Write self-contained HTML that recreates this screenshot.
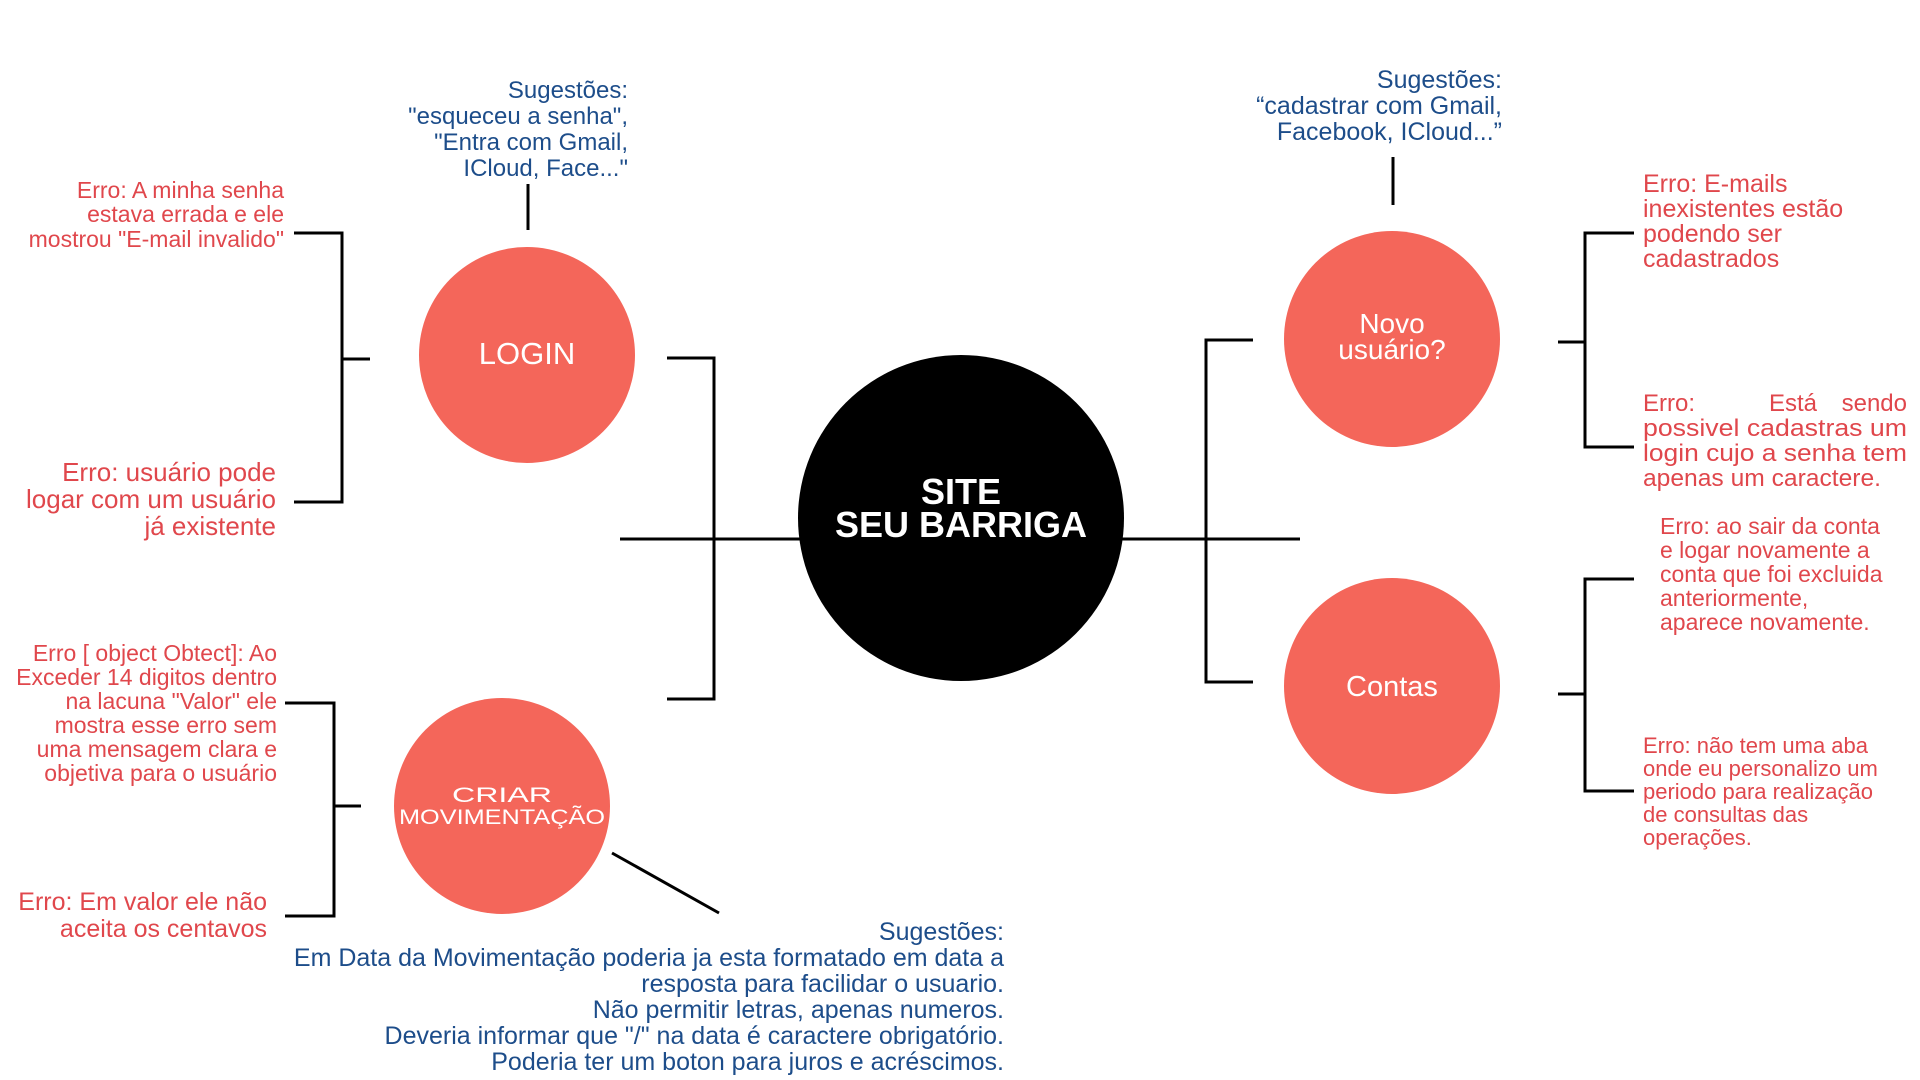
<!DOCTYPE html>
<html><head><meta charset="utf-8"><style>
html,body{margin:0;padding:0;background:#fff}
svg{display:block}
text{font-family:"Liberation Sans",sans-serif}
.b{fill:#1d4d8a}
.r{fill:#e0474c}
</style></head><body>
<svg width="1920" height="1080" viewBox="0 0 1920 1080" xmlns="http://www.w3.org/2000/svg">
<g stroke="#000" stroke-width="3" fill="none">
<line x1="620" y1="539" x2="1300" y2="539"/>
<polyline points="667,358 714,358 714,699 667,699"/>
<polyline points="1253,340 1206,340 1206,682 1253,682"/>
<line x1="528" y1="184" x2="528" y2="230"/>
<polyline points="294,233 342,233 342,502 294,502"/>
<line x1="342" y1="359" x2="370" y2="359"/>
<polyline points="285,703 334,703 334,916 285,916"/>
<line x1="334" y1="806" x2="361" y2="806"/>
<line x1="612" y1="853" x2="719" y2="913"/>
<line x1="1393" y1="157" x2="1393" y2="205"/>
<polyline points="1634,233 1585,233 1585,447 1634,447"/>
<line x1="1558" y1="342" x2="1585" y2="342"/>
<polyline points="1634,579 1585,579 1585,791 1634,791"/>
<line x1="1558" y1="694" x2="1585" y2="694"/>
</g>
<circle cx="961" cy="518" r="163" fill="#000"/>
<circle cx="527" cy="355" r="108" fill="#f4665a"/>
<circle cx="502" cy="806" r="108" fill="#f4665a"/>
<circle cx="1392" cy="339" r="108" fill="#f4665a"/>
<circle cx="1392" cy="686" r="108" fill="#f4665a"/>
<g fill="#fff" text-anchor="middle">
<text x="961" y="504" font-size="36" font-weight="bold">SITE</text>
<text x="961" y="537" font-size="36" font-weight="bold">SEU BARRIGA</text>
<text x="527" y="364" font-size="31">LOGIN</text>
<text x="502" y="802" font-size="21" textLength="100" lengthAdjust="spacingAndGlyphs">CRIAR</text>
<text x="502" y="824" font-size="21" textLength="206" lengthAdjust="spacingAndGlyphs">MOVIMENTAÇÃO</text>
<text x="1392" y="333" font-size="28">Novo</text>
<text x="1392" y="359" font-size="28">usuário?</text>
<text x="1392" y="696" font-size="29">Contas</text>
</g>
<g class="b" text-anchor="end">
<g font-size="24">
<text x="628" y="98">Sugestões:</text>
<text x="628" y="124">"esqueceu a senha",</text>
<text x="628" y="150">"Entra com Gmail,</text>
<text x="628" y="176">ICloud, Face..."</text>
</g>
<g font-size="25">
<text x="1502" y="88">Sugestões:</text>
<text x="1502" y="114">“cadastrar com Gmail,</text>
<text x="1502" y="140">Facebook, ICloud...”</text>
</g>
<g font-size="25">
<text x="1004" y="940">Sugestões:</text>
<text x="1004" y="966">Em Data da Movimentação poderia ja esta formatado em data a</text>
<text x="1004" y="992">resposta para facilidar o usuario.</text>
<text x="1004" y="1018">Não permitir letras, apenas numeros.</text>
<text x="1004" y="1044">Deveria informar que "/" na data é caractere obrigatório.</text>
<text x="1004" y="1070">Poderia ter um boton para juros e acréscimos.</text>
</g>
</g>
<g class="r" text-anchor="end">
<g font-size="23">
<text x="284" y="198">Erro: A minha senha</text>
<text x="284" y="222">estava errada e ele</text>
<text x="284" y="247">mostrou "E-mail invalido"</text>
</g>
<g font-size="26">
<text x="276" y="481">Erro: usuário pode</text>
<text x="276" y="508">logar com um usuário</text>
<text x="276" y="535">já existente</text>
</g>
<g font-size="23">
<text x="277" y="661">Erro [ object Obtect]: Ao</text>
<text x="277" y="685">Exceder 14 digitos dentro</text>
<text x="277" y="709">na lacuna "Valor" ele</text>
<text x="277" y="733">mostra esse erro sem</text>
<text x="277" y="757">uma mensagem clara e</text>
<text x="277" y="781">objetiva para o usuário</text>
</g>
<g font-size="25">
<text x="267" y="910">Erro: Em valor ele não</text>
<text x="267" y="937">aceita os centavos</text>
</g>
</g>
<g class="r">
<g font-size="25">
<text x="1643" y="192">Erro: E-mails</text>
<text x="1643" y="217">inexistentes estão</text>
<text x="1643" y="242">podendo ser</text>
<text x="1643" y="267">cadastrados</text>
</g>
<g font-size="24">
<text x="1643" y="411">Erro:</text>
<text x="1793" y="411" text-anchor="middle">Está</text>
<text x="1907" y="411" text-anchor="end">sendo</text>
<text x="1643" y="436" textLength="264" lengthAdjust="spacingAndGlyphs">possivel  cadastras  um</text>
<text x="1643" y="461" textLength="264" lengthAdjust="spacingAndGlyphs">login  cujo  a  senha  tem</text>
<text x="1643" y="486" textLength="238" lengthAdjust="spacingAndGlyphs">apenas um caractere.</text>
</g>
<g font-size="23">
<text x="1660" y="534">Erro: ao sair da conta</text>
<text x="1660" y="558">e logar novamente a</text>
<text x="1660" y="582">conta que foi excluida</text>
<text x="1660" y="606">anteriormente,</text>
<text x="1660" y="630">aparece novamente.</text>
</g>
<g font-size="22">
<text x="1643" y="753">Erro: não tem uma aba</text>
<text x="1643" y="776">onde eu personalizo um</text>
<text x="1643" y="799">periodo para realização</text>
<text x="1643" y="822">de consultas das</text>
<text x="1643" y="845">operações.</text>
</g>
</g>
</svg>
</body></html>
